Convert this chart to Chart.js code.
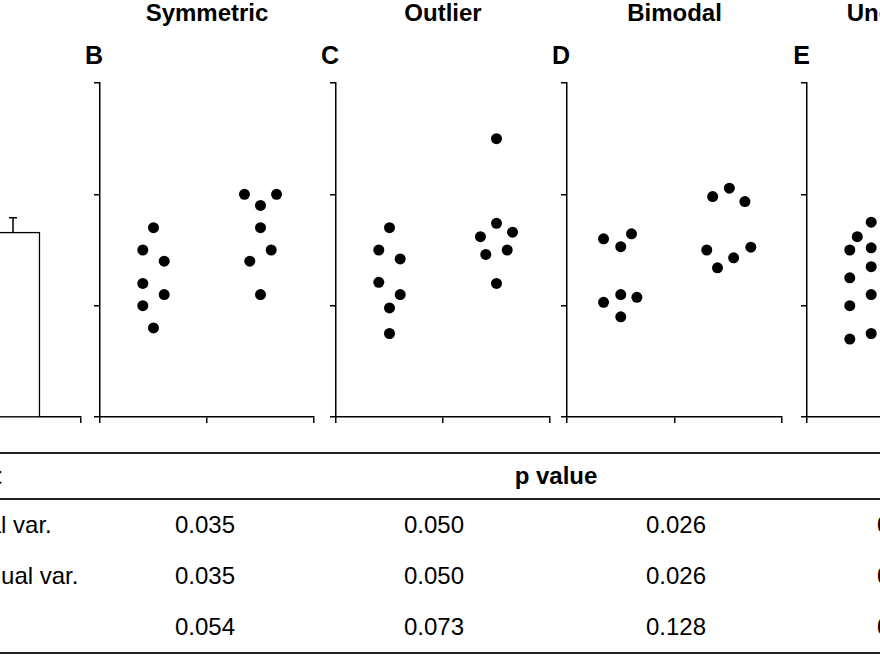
<!DOCTYPE html>
<html>
<head>
<meta charset="utf-8">
<script src="https://cdn.jsdelivr.net/npm/chart.js@4.4.1/dist/chart.umd.min.js"></script>
<style>
  body { margin: 0; width: 880px; height: 660px; overflow: hidden; background: #fff; position: relative;
         font-family: "Liberation Sans", Arial, sans-serif; color: #000; }
  canvas { position: absolute; }
  .title { position: absolute; top: 1px; font-size: 24px; line-height: 24px; font-weight: bold; white-space: nowrap; transform: translateX(-50%); }
  .letter { position: absolute; top: 43px; font-size: 25px; line-height: 25px; font-weight: bold; transform: translateX(-100%); }
  .rule { position: absolute; left: 0; width: 880px; height: 2px; background: #222; }
  .cell { position: absolute; font-size: 24px; line-height: 24px; white-space: nowrap; }
  .num { transform: translateX(-50%); }
</style>
</head>
<body>
<canvas id="panelA" width="288" height="348" style="left:-199px; top:77px"></canvas>
<canvas id="panelB" width="230" height="348" style="left:92px; top:77px"></canvas>
<canvas id="panelC" width="230" height="348" style="left:328px; top:77px"></canvas>
<canvas id="panelD" width="231" height="348" style="left:559px; top:77px"></canvas>
<canvas id="panelE" width="230" height="348" style="left:799px; top:77px"></canvas>

<div class="rule" style="top:452px"></div>
<div class="rule" style="top:498px"></div>
<div class="rule" style="top:652px"></div>

<script>
// axis ticks (no labels shown)
const yTicks = [0, 1, 2, 3];
const xTicks = [0, 1, 2];
const groups = ["Group 1", "Group 2"];

// panel A: group means with error
const barMeans = [1.24, 1.66];
const barErrors = [0.12, 0.13];

// B: symmetric
const symX1 = [0.5, 0.4, 0.6, 0.4, 0.6, 0.4, 0.5];
const symY1 = [1.7, 1.5, 1.4, 1.2, 1.1, 1.0, 0.8];
const symX2 = [1.35, 1.65, 1.5, 1.5, 1.6, 1.4, 1.5];
const symY2 = [2.0, 2.0, 1.9, 1.7, 1.5, 1.4, 1.1];

// C: outlier
const outX1 = [0.5, 0.4, 0.6, 0.4, 0.6, 0.5, 0.5];
const outY1 = [1.7, 1.5, 1.42, 1.21, 1.1, 0.98, 0.75];
const outX2 = [1.5, 1.5, 1.65, 1.35, 1.6, 1.4, 1.5];
const outY2 = [2.5, 1.74, 1.66, 1.62, 1.5, 1.46, 1.2];

// D: bimodal
const bimX1 = [0.34, 0.5, 0.6, 0.34, 0.5, 0.65, 0.5];
const bimY1 = [1.6, 1.53, 1.645, 1.03, 1.1, 1.075, 0.9];
const bimX2 = [1.355, 1.51, 1.655, 1.3, 1.4, 1.55, 1.71];
const bimY2 = [1.98, 2.055, 1.935, 1.5, 1.34, 1.43, 1.525];

// E: unequal (only the first group is in view)
const uneX1 = [0.6, 0.47, 0.4, 0.6, 0.6, 0.4, 0.6, 0.4, 0.4, 0.6];
const uneY1 = [1.75, 1.62, 1.5, 1.52, 1.35, 1.25, 1.1, 1.0, 0.7, 0.75];

const panelTitles = ["Symmetric", "Outlier", "Bimodal", "Unequal SD"];
const panelLetters = ["B", "C", "D", "E"];

// table
const tableTitle = "p value";
const rowHead = "Test";
const rowLabels = ["t-test, equal var.", "t-test, unequal var.", "Wilcoxon"];
const pSymmetric = ["0.035", "0.035", "0.054"];
const pOutlier = ["0.050", "0.050", "0.073"];
const pBimodal = ["0.026", "0.026", "0.128"];
const pUnequal = ["0.041", "0.012", "0.077"];

Chart.defaults.font.family = "'Liberation Sans', Arial, sans-serif";
Chart.defaults.animation = false;

function axis(ticks) {
  return {
    type: "linear",
    min: ticks[0],
    max: ticks[ticks.length - 1],
    afterBuildTicks: s => { s.ticks = ticks.map(v => ({ value: v })); },
    ticks: { display: false },
    grid: { drawOnChartArea: false, drawTicks: true, tickLength: 6, color: "#000", lineWidth: 1.5 },
    border: { color: "#000", width: 1.5 }
  };
}

function toPoints(xs, ys) {
  return xs.map((x, i) => ({ x: x, y: ys[i] }));
}

function dotPanel(id, sets) {
  new Chart(document.getElementById(id), {
    type: "scatter",
    data: {
      datasets: sets.map(s => ({
        data: s,
        pointRadius: 5.5,
        pointBackgroundColor: "#000",
        pointBorderWidth: 0,
        clip: false
      }))
    },
    options: {
      responsive: false,
      devicePixelRatio: 1,
      layout: { autoPadding: false, padding: { left: 2, top: 6, right: 8, bottom: 2 } },
      plugins: { legend: { display: false }, tooltip: { enabled: false } },
      scales: { x: axis(xTicks), y: axis(yTicks) }
    }
  });
}

const errorBars = {
  id: "errorBars",
  afterDatasetsDraw(chart) {
    const ctx = chart.ctx;
    const y = chart.scales.y;
    chart.getDatasetMeta(0).data.forEach((bar, i) => {
      const top = y.getPixelForValue(barMeans[i] + barErrors[i]);
      ctx.save();
      ctx.strokeStyle = "#000";
      ctx.lineWidth = 1.5;
      ctx.beginPath();
      ctx.moveTo(bar.x, bar.y);
      ctx.lineTo(bar.x, top);
      ctx.moveTo(bar.x - 4, top);
      ctx.lineTo(bar.x + 4, top);
      ctx.stroke();
      ctx.restore();
    });
  }
};

new Chart(document.getElementById("panelA"), {
  type: "bar",
  data: {
    labels: groups,
    datasets: [{
      data: barMeans,
      backgroundColor: "#fff",
      borderColor: "#000",
      borderWidth: 1.5,
      barThickness: 54
    }]
  },
  options: {
    responsive: false,
    devicePixelRatio: 1,
    layout: { autoPadding: false, padding: { left: 2, top: 6, right: 8, bottom: 2 } },
    plugins: { legend: { display: false }, tooltip: { enabled: false } },
    scales: {
      x: {
        type: "category",
        offset: true,
        ticks: { display: false },
        grid: { offset: true, drawOnChartArea: false, drawTicks: true, tickLength: 6, color: "#000", lineWidth: 1.5 },
        border: { color: "#000", width: 1.5 }
      },
      y: axis(yTicks)
    }
  },
  plugins: [errorBars]
});

dotPanel("panelB", [toPoints(symX1, symY1), toPoints(symX2, symY2)]);
dotPanel("panelC", [toPoints(outX1, outY1), toPoints(outX2, outY2)]);
dotPanel("panelD", [toPoints(bimX1, bimY1), toPoints(bimX2, bimY2)]);
dotPanel("panelE", [toPoints(uneX1, uneY1)]);

// titles and panel letters over each dot panel
const axisLeft = [100, 336, 567, 807];
const axisWidth = [214, 214, 215, 214];
panelTitles.forEach((t, i) => {
  const d = document.createElement("div");
  d.className = "title";
  d.style.left = (axisLeft[i] + axisWidth[i] / 2) + "px";
  d.textContent = t;
  document.body.appendChild(d);
  const l = document.createElement("div");
  l.className = "letter";
  l.style.left = (axisLeft[i] + 3) + "px";
  l.textContent = panelLetters[i];
  document.body.appendChild(l);
});

// p value table
function cell(text, left, top, cls, bold) {
  const d = document.createElement("div");
  d.className = "cell " + (cls || "");
  d.style.left = left + "px";
  d.style.top = top + "px";
  if (bold) d.style.fontWeight = "bold";
  d.textContent = text;
  document.body.appendChild(d);
  return d;
}
cell(tableTitle, 556, 464, "num", true);
const head = cell(rowHead, 0, 464, "", true);
head.style.left = (2 - head.offsetWidth) + "px";
const rowTop = [513, 564, 615];
const colX = [205, 434, 676, 907];
rowLabels.forEach((r, i) => cell(r, -119, rowTop[i]));
[pSymmetric, pOutlier, pBimodal, pUnequal].forEach((col, c) => {
  col.forEach((v, i) => cell(v, colX[c], rowTop[i], "num"));
});
</script>
</body>
</html>
